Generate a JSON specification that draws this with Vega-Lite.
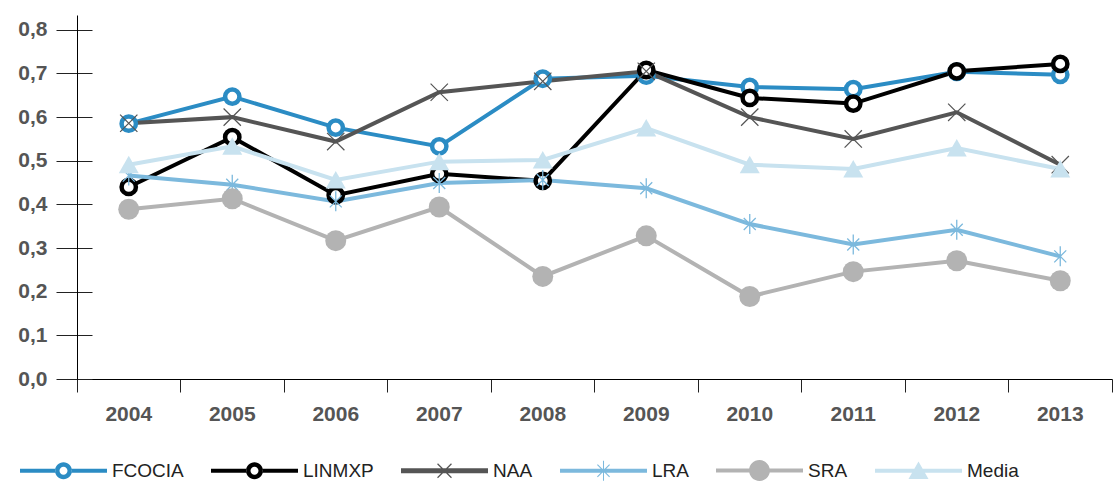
{
  "$schema": "https://vega.github.io/schema/vega-lite/v6.json",
  "autosize": {"type": "none"},
  "width": 1035,
  "height": 364,
  "padding": {"left": 77, "top": 15, "right": 6, "bottom": 103},
  "background": "white",
  "config": {"view": {"stroke": null}},
  "data": {"values": [
    {"year": "2004", "series": "FCOCIA", "v": 0.585},
    {"year": "2005", "series": "FCOCIA", "v": 0.647},
    {"year": "2006", "series": "FCOCIA", "v": 0.576},
    {"year": "2007", "series": "FCOCIA", "v": 0.533},
    {"year": "2008", "series": "FCOCIA", "v": 0.688},
    {"year": "2009", "series": "FCOCIA", "v": 0.695},
    {"year": "2010", "series": "FCOCIA", "v": 0.669},
    {"year": "2011", "series": "FCOCIA", "v": 0.664},
    {"year": "2012", "series": "FCOCIA", "v": 0.704},
    {"year": "2013", "series": "FCOCIA", "v": 0.697},
    {"year": "2004", "series": "LINMXP", "v": 0.440},
    {"year": "2005", "series": "LINMXP", "v": 0.554},
    {"year": "2006", "series": "LINMXP", "v": 0.421},
    {"year": "2007", "series": "LINMXP", "v": 0.470},
    {"year": "2008", "series": "LINMXP", "v": 0.454},
    {"year": "2009", "series": "LINMXP", "v": 0.708},
    {"year": "2010", "series": "LINMXP", "v": 0.644},
    {"year": "2011", "series": "LINMXP", "v": 0.631},
    {"year": "2012", "series": "LINMXP", "v": 0.705},
    {"year": "2013", "series": "LINMXP", "v": 0.722},
    {"year": "2004", "series": "NAA", "v": 0.586},
    {"year": "2005", "series": "NAA", "v": 0.600},
    {"year": "2006", "series": "NAA", "v": 0.544},
    {"year": "2007", "series": "NAA", "v": 0.657},
    {"year": "2008", "series": "NAA", "v": 0.682},
    {"year": "2009", "series": "NAA", "v": 0.705},
    {"year": "2010", "series": "NAA", "v": 0.600},
    {"year": "2011", "series": "NAA", "v": 0.550},
    {"year": "2012", "series": "NAA", "v": 0.611},
    {"year": "2013", "series": "NAA", "v": 0.491},
    {"year": "2004", "series": "LRA", "v": 0.466},
    {"year": "2005", "series": "LRA", "v": 0.445},
    {"year": "2006", "series": "LRA", "v": 0.407},
    {"year": "2007", "series": "LRA", "v": 0.449},
    {"year": "2008", "series": "LRA", "v": 0.456},
    {"year": "2009", "series": "LRA", "v": 0.437},
    {"year": "2010", "series": "LRA", "v": 0.355},
    {"year": "2011", "series": "LRA", "v": 0.308},
    {"year": "2012", "series": "LRA", "v": 0.342},
    {"year": "2013", "series": "LRA", "v": 0.281},
    {"year": "2004", "series": "SRA", "v": 0.389},
    {"year": "2005", "series": "SRA", "v": 0.413},
    {"year": "2006", "series": "SRA", "v": 0.317},
    {"year": "2007", "series": "SRA", "v": 0.394},
    {"year": "2008", "series": "SRA", "v": 0.235},
    {"year": "2009", "series": "SRA", "v": 0.328},
    {"year": "2010", "series": "SRA", "v": 0.189},
    {"year": "2011", "series": "SRA", "v": 0.246},
    {"year": "2012", "series": "SRA", "v": 0.271},
    {"year": "2013", "series": "SRA", "v": 0.225},
    {"year": "2004", "series": "Media", "v": 0.491},
    {"year": "2005", "series": "Media", "v": 0.533},
    {"year": "2006", "series": "Media", "v": 0.456},
    {"year": "2007", "series": "Media", "v": 0.498},
    {"year": "2008", "series": "Media", "v": 0.502},
    {"year": "2009", "series": "Media", "v": 0.575},
    {"year": "2010", "series": "Media", "v": 0.491},
    {"year": "2011", "series": "Media", "v": 0.481},
    {"year": "2012", "series": "Media", "v": 0.529},
    {"year": "2013", "series": "Media", "v": 0.481}
  ]},
  "resolve": {"axis": {"y": "independent"}},
  "layer": [
    {
      "mark": {"type": "line", "strokeJoin": "miter"},
      "encoding": {
        "x": {"field": "year", "type": "ordinal",
              "scale": {"type": "band", "paddingInner": 0, "paddingOuter": 0},
              "axis": {"title": null, "bandPosition": 1, "tickExtra": true, "tickSize": 13, "tickColor": "#222", "tickWidth": 1,
                       "domainColor": "#000", "domainWidth": 1, "grid": false, "labelAngle": 0,
                       "labelFont": "Liberation Sans", "labelFontWeight": "bold", "labelFontSize": 21, "labelColor": "#555", "labelPadding": 11}},
        "y": {"field": "v", "type": "quantitative",
              "scale": {"domain": [0, 0.834], "nice": false, "zero": true},
              "axis": {"title": null, "orient": "left", "offset": -15, "values": [0, 0.1, 0.2, 0.3, 0.4, 0.5, 0.6, 0.7, 0.8],
                       "labelExpr": "replace(format(datum.value, '.1f'), '.', ',')",
                       "domain": false, "grid": false, "tickSize": 36, "tickColor": "#222", "tickWidth": 1,
                       "labelFont": "Liberation Sans", "labelFontWeight": "bold", "labelFontSize": 21, "labelColor": "#555", "labelPadding": 9}},
        "stroke": {"field": "series", "type": "nominal", "legend": null,
                  "scale": {"domain": ["Media", "SRA", "LRA", "NAA", "LINMXP", "FCOCIA"],
                            "range": ["#c8e2ef", "#b3b3b3", "#7cb9dd", "#555555", "#000000", "#2b8cc4"]}},
        "strokeWidth": {"field": "series", "type": "nominal", "legend": null,
                        "scale": {"domain": ["Media", "SRA", "LRA", "NAA", "LINMXP", "FCOCIA"], "range": [4, 4, 4, 5, 4, 4]}}
      }
    },
    {
      "transform": [{"filter": {"field": "series", "equal": "FCOCIA"}}],
      "mark": {"type": "point", "shape": "circle", "size": 205, "filled": true, "fill": "white", "stroke": "#2b8cc4", "strokeWidth": 4.5, "opacity": 1},
      "encoding": {
        "x": {"field": "year", "type": "ordinal"},
        "y": {"field": "v", "type": "quantitative",
              "axis": {"title": null, "orient": "left", "domain": true, "domainColor": "#000", "domainWidth": 1, "ticks": false, "labels": false, "grid": false}}
      }
    },
    {
      "transform": [{"filter": {"field": "series", "equal": "LINMXP"}}],
      "mark": {"type": "point", "shape": "circle", "size": 205, "filled": true, "fill": "white", "stroke": "#000000", "strokeWidth": 4.5, "opacity": 1},
      "encoding": {
        "x": {"field": "year", "type": "ordinal"},
        "y": {"field": "v", "type": "quantitative", "axis": null}
      }
    },
    {
      "transform": [{"filter": {"field": "series", "equal": "NAA"}}],
      "mark": {"type": "point", "shape": "M-1,-1L1,1M1,-1L-1,1", "size": 300, "filled": false, "stroke": "#555555", "strokeWidth": 1.2, "opacity": 1},
      "encoding": {
        "x": {"field": "year", "type": "ordinal"},
        "y": {"field": "v", "type": "quantitative", "axis": null}
      }
    },
    {
      "transform": [{"filter": {"field": "series", "equal": "LRA"}}],
      "mark": {"type": "point", "shape": "M0,-1V1M-0.6,-0.6L0.6,0.6M0.6,-0.6L-0.6,0.6", "size": 400, "filled": false, "stroke": "#7cb9dd", "strokeWidth": 1.3, "opacity": 1},
      "encoding": {
        "x": {"field": "year", "type": "ordinal"},
        "y": {"field": "v", "type": "quantitative", "axis": null}
      }
    },
    {
      "transform": [{"filter": {"field": "series", "equal": "SRA"}}],
      "mark": {"type": "point", "shape": "circle", "size": 441, "filled": true, "fill": "#b3b3b3", "strokeWidth": 0, "opacity": 1},
      "encoding": {
        "x": {"field": "year", "type": "ordinal"},
        "y": {"field": "v", "type": "quantitative", "axis": null}
      }
    },
    {
      "transform": [{"filter": {"field": "series", "equal": "Media"}}],
      "mark": {"type": "point", "shape": "M0,-0.9L1,0.85L-1,0.85Z", "size": 400, "filled": true, "fill": "#c8e2ef", "strokeWidth": 0, "opacity": 1},
      "encoding": {
        "x": {"field": "year", "type": "ordinal"},
        "y": {"field": "v", "type": "quantitative", "axis": null}
      }
    },
    {
      "transform": [{"filter": "datum.v < 0"}],
      "mark": {"type": "point", "filled": true, "opacity": 1, "strokeWidth": 0},
      "encoding": {
        "x": {"field": "year", "type": "ordinal"},
        "y": {"field": "v", "type": "quantitative", "axis": null},
        "color": {"field": "series", "type": "nominal",
                  "scale": {"domain": ["FCOCIA", "LINMXP", "NAA", "LRA", "SRA", "Media"],
                            "range": ["#2b8cc4", "#000000", "#555555", "#7cb9dd", "#b3b3b3", "#c8e2ef"]},
                  "legend": {"title": null, "orient": "none", "legendX": -57, "legendY": 412, "direction": "horizontal", "columns": 6,
                             "padding": 0, "symbolSize": 7569, "columnPadding": 27, "labelOffset": 5,
                             "labelFont": "Liberation Sans", "labelFontSize": 19, "labelColor": "#222",
                             "symbolStrokeWidth": 0, "symbolOpacity": 1,
                             "encode": {"symbols": {"update": {"fill": {"scale": "color", "field": "value"}, "stroke": {"value": "transparent"}, "strokeWidth": {"value": 0}, "opacity": {"value": 1}}}}}},
        "shape": {"field": "series", "type": "nominal",
                  "legend": {"title": null, "orient": "none", "legendX": -57, "legendY": 412, "direction": "horizontal", "columns": 6,
                             "padding": 0, "symbolSize": 7569, "columnPadding": 27, "labelOffset": 5,
                             "labelFont": "Liberation Sans", "labelFontSize": 19, "labelColor": "#222",
                             "symbolStrokeWidth": 0, "symbolOpacity": 1,
                             "encode": {"symbols": {"update": {"fill": {"scale": "color", "field": "value"}, "stroke": {"value": "transparent"}, "strokeWidth": {"value": 0}, "opacity": {"value": 1}}}}},
                  "scale": {"domain": ["FCOCIA", "LINMXP", "NAA", "LRA", "SRA", "Media"],
                            "range": [
                              "M-1,-0.048H-0.19V0.048H-1Z M0.19,-0.048H1V0.048H0.19Z M-0.195,0A0.195,0.195 0 1 0 0.195,0A0.195,0.195 0 1 0 -0.195,0Z M-0.092,0A0.092,0.092 0 1 1 0.092,0A0.092,0.092 0 1 1 -0.092,0Z",
                              "M-1,-0.048H-0.19V0.048H-1Z M0.19,-0.048H1V0.048H0.19Z M-0.195,0A0.195,0.195 0 1 0 0.195,0A0.195,0.195 0 1 0 -0.195,0Z M-0.092,0A0.092,0.092 0 1 1 0.092,0A0.092,0.092 0 1 1 -0.092,0Z",
                              "M-1,-0.06H1V0.06H-1Z M-0.17,-0.15L-0.15,-0.17L0.17,0.15L0.15,0.17Z M0.15,-0.17L0.17,-0.15L-0.15,0.17L-0.17,0.15Z",
                              "M-1,-0.048H1V0.048H-1Z M-0.012,-0.23H0.012V0.23H-0.012Z M-0.149,-0.131L-0.131,-0.149L0.149,0.131L0.131,0.149Z M0.131,-0.149L0.149,-0.131L-0.131,0.149L-0.149,0.131Z",
                              "M-1,-0.048H1V0.048H-1Z M-0.24,0A0.24,0.24 0 1 1 0.24,0A0.24,0.24 0 1 1 -0.24,0Z",
                              "M-1,-0.048H1V0.048H-1Z M0,-0.21L0.23,0.19L-0.23,0.19Z"
                            ]}}
      }
    }
  ]
}
